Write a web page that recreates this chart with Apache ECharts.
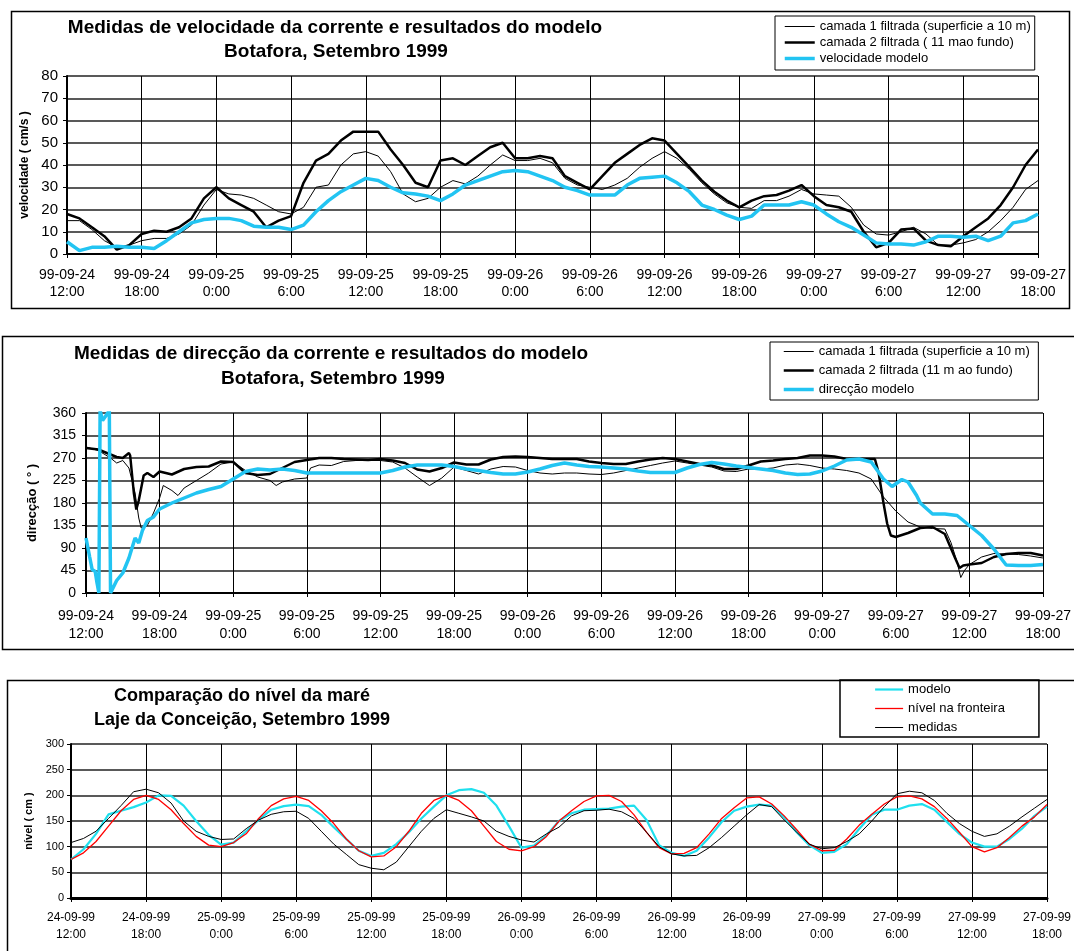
<!DOCTYPE html>
<html>
<head>
<meta charset="utf-8">
<script src="https://cdn.jsdelivr.net/npm/echarts@6/dist/echarts.min.js"></script>
<style>
  html, body { margin: 0; padding: 0; background: #fff; }
  #chart { width: 1074px; height: 951px; }
</style>
</head>
<body>
<div id="chart"></div>
<script>
// hours since 99-09-24 12:00 (shared by panels 1 and 3)
var hours = [0,1,2,3,4,5,6,7,8,9,10,11,12,13,14,15,16,17,18,19,20,21,22,23,24,25,26,27,28,29,30,31,32,33,34,35,36,37,38,39,
  40,41,42,43,44,45,46,47,48,49,50,51,52,53,54,55,56,57,58,59,60,61,62,63,64,65,66,67,68,69,70,71,72,73,74,75,76,77,78];

// panel 1 - velocidade (cm/s)
var velCamada1 = [15,15,11,6,3,4,6,7,7,9, 13,22,29,27,26.5,25,22,19,18,21, 30,31,40,45,46,44,37,27,23.5,25,
  30,33,31.5,35,40,44.5,42,42,43,41, 34,31,30,29,31,34,39,43,46,43, 38,32,27,23,21,20.5,24,24,26,29,
  27,26.5,26,21,13,9,8.5,10,12,9, 4,4,5,6.5,10,15,21,29,33];
var velCamada2 = [18,16,12,8,2,4,9,10.5,10,12, 16,25,30,25,22,19,12,15,17,32, 42,45,51,55,55,55,47,40,32,30,
  42,43,40,44,48,50,43,43,44,43, 35,32,29,35,41,45,49,52,51,45, 39,33,28,24,21,24,26,26.5,28.5,31,
  26,22,21,19,10,3,5,11,11.5,6, 4,3.5,8,12,16,22,30,40,47];
var velModelo = [5.5,1.5,3,3,3.5,3,3,2.5,6,10, 14,15.5,16,16,15,12.5,12,12,11,13, 19,24,28,31,34,33,30,27.5,27,26,
  24,27,31,33,35,37,37.5,37,35,33, 30,28.5,26.5,26.5,26.5,31,34,34.5,35,32, 28,22,20,17.5,15.5,17,22,22,22,23.5,
  22,18,14.5,12,8.5,5,4.5,4.5,4,5.5, 8,8,7.5,8,6,8,14,15,18];
var velTicks = ['99-09-24\n12:00','99-09-24\n18:00','99-09-25\n0:00','99-09-25\n6:00','99-09-25\n12:00','99-09-25\n18:00',
  '99-09-26\n0:00','99-09-26\n6:00','99-09-26\n12:00','99-09-26\n18:00','99-09-27\n0:00','99-09-27\n6:00','99-09-27\n12:00','99-09-27\n18:00'];

// panel 2 - direcção (graus)
var dirHours1 = [0,1,2,2.5,3,3.5,4,4.3,4.5,5, 5.5,6,6.3,7,7.5,8,9,10,11,12, 13,14,15,15.5,16,17,18,18.3,19,20,
  21,22,23,24,25,26,27,28,29,30, 31,32,33,34,35,36,37,38,39,40, 41,42,43,44,45,46,47,48,49,50,
  51,52,53,54,55,56,57,58,59,60, 61,62,63,64,65,66,67,68,69,70, 70.5,71,71.3,71.6,72, 73,74,75,76,77,78];
var dirCamada1 = [292,285,270,260,265,250,200,150,130,135, 160,190,215,205,195,210,225,240,258,262, 245,232,225,215,222,228,230,250,256,255,
  263,265,265,265,262,250,232,215,230,252, 245,238,248,253,252,245,240,238,240,240, 238,237,240,245,250,255,260,264,260,256,
  252,244,243,248,248,250,256,258,255,250, 248,245,240,228,192,164,142,132,129,128, 101,62,31,45,57, 72,79,78,77,74,70];
var dirHours2 = [0,1,2,2.5,3,3.5,3.6,3.9,4.1,4.3,4.7,5,5.5,6, 7,8,9,10,11,12,13,14,15,16, 17,18,19,20,21,22,23,24,25,26,
  27,28,29,30,31,32,33,34,35,36, 37,38,39,40,41,42,43,44,45,46, 47,48,49,50,51,52,53,54,55,56, 57,58,59,60,61,62,63,64,
  64.3,64.6,65,65.3,65.6, 66,67,68,69,70, 70.8,71.2,71.5, 72,73,74,75,76,77,78];
var dirCamada2 = [290,287,277,272,270,280,275,200,167,185,235,240,232,243, 237,248,252,253,263,262,240,236,238,250,
  262,266,270,270,268,267,266,268,265,260, 247,243,250,261,257,257,267,272,273,272, 270,268,268,268,263,260,258,258,263,267,
  270,268,263,258,255,248,248,255,263,265, 268,270,275,275,273,268,268,268, 268,241,180,139,115, 112,120,130,132,118,
  72,50,55, 57,60,72,78,80,80,75];
var dirHours3 = [0,0.3,0.5,0.75,0.9,1.05,1.15,1.35,1.55,1.9, 2,2.5,3,3.5,4,4.3,4.6,5,5.5,6, 7,8,9,10,11,12,13,14,15,16,
  17,18,19,20,21,22,23,24,25,26, 27,28,29,30,31,32,33,34,35,36, 37,38,39,40,41,42,43,44,45,46, 47,48,49,50,51,52,53,54,55,56,
  57,58,59,60,61,62,63,64,65, 65.7,66.5, 67,67.7, 68,69,70,71,72,73,74,75,76,77,78];
var dirModelo = [110,72,47,43,20,0,365,345,352,365, 0,25,40,70,110,100,125,145,152,168, 180,190,200,207,213,228,243,248,246,248,
  245,240,240,240,240,240,240,240,245,252, 256,256,256,253,248,245,241,238,238,242, 248,255,260,256,253,252,250,248,244,241,
  241,241,250,257,261,258,254,251,248,245, 240,237,238,244,254,266,268,262,228, 213,227, 222,195, 180,158,158,155,135,115,88,56,55,55,57];
var dirTicks = velTicks;

// panel 3 - nível da maré (cm)
var nivelModelo = [75,95,125,163,170,177,186,200,199,180, 150,123,104,108,130,152,172,179,182,179, 162,138,115,92,82,88,105,128,155,178,
  200,210,212,205,180,140,98,102,122,150, 165,172,173,174,178,180,152,103,88,82, 92,118,148,170,178,182,180,157,128,103,
  88,90,105,135,162,172,172,180,183,172, 148,125,108,100,100,115,135,160,178];
var nivelFronteira = [75,88,110,140,170,192,200,192,172,145, 120,103,100,108,125,155,180,193,198,190, 170,145,115,92,80,82,100,130,165,190,
  200,190,170,140,110,95,92,100,120,150, 170,188,199,200,188,162,128,98,86,87, 98,125,155,176,195,197,183,160,133,105,
  92,93,115,142,163,183,197,199,193,178, 155,128,100,90,98,118,140,158,182];
var nivelMedidas = [108,116,130,155,180,207,212,205,185,150, 130,120,114,115,135,152,163,168,169,155, 130,105,85,65,58,55,70,100,130,155,
  172,165,158,150,130,120,113,109,125,138, 160,170,171,173,168,155,128,100,86,82, 83,98,118,140,162,182,178,152,128,105,
  96,98,110,125,150,178,203,208,205,190, 165,145,130,120,125,140,158,175,192];
var nivelTicks = ['24-09-99\n12:00','24-09-99\n18:00','25-09-99\n0:00','25-09-99\n6:00','25-09-99\n12:00','25-09-99\n18:00',
  '26-09-99\n0:00','26-09-99\n6:00','26-09-99\n12:00','26-09-99\n18:00','27-09-99\n0:00','27-09-99\n6:00','27-09-99\n12:00','27-09-99\n18:00'];

var FONT = "'Liberation Sans', Arial, sans-serif";

function pairs(xs, ys) {
  var out = [];
  for (var i = 0; i < xs.length; i++) out.push([xs[i], ys[i]]);
  return out;
}

function xAxisFor(idx, ticks, size, margin, lh, axisW) {
  return {
    type: 'value', gridIndex: idx, min: 0, max: 78, interval: 6,
    axisLine: { onZero: false, lineStyle: { color: '#000', width: axisW } },
    axisTick: { show: true, length: 4, lineStyle: { color: '#000', width: 1 } },
    splitLine: { show: true, lineStyle: { color: '#000', width: 1 } },
    axisLabel: {
      color: '#000', fontFamily: FONT, fontSize: size, margin: margin, lineHeight: lh,
      formatter: function (v) { return ticks[Math.round(v / 6)]; }
    }
  };
}

function yAxisFor(idx, max, step, size, margin, name, nameSize, nameGap) {
  return {
    type: 'value', gridIndex: idx, min: 0, max: max, interval: step,
    name: name, nameLocation: 'middle', nameGap: nameGap, nameRotate: 90,
    nameTextStyle: { color: '#000', fontFamily: FONT, fontWeight: 'bold', fontSize: nameSize },
    axisLine: { show: true, lineStyle: { color: '#000', width: 2 } },
    axisTick: { show: true, length: 4, lineStyle: { color: '#000' } },
    splitLine: { show: true, lineStyle: { color: '#222', width: 1.5 } },
    axisLabel: { color: '#000', fontFamily: FONT, fontSize: size, margin: margin }
  };
}

function line(name, xi, data, color, width) {
  return {
    name: name, type: 'line', xAxisIndex: xi, yAxisIndex: xi, data: data,
    symbol: 'none', clip: true, animation: false,
    lineStyle: { color: color, width: width }, itemStyle: { color: color }
  };
}

function title(text, cx, cy, size) {
  return { type: 'text', x: cx, y: cy, style: { text: text, fill: '#000', font: 'bold ' + size + 'px ' + FONT, textAlign: 'center', textVerticalAlign: 'middle' } };
}

function frame(x, y, w, h) {
  return { type: 'rect', shape: { x: x, y: y, width: w, height: h }, style: { fill: null, stroke: '#000', lineWidth: 1.5 }, z: 10 };
}

// legend icons: line only, no marker
var noMarker = { color: 'rgba(0,0,0,0)', borderWidth: 0 };

var chart = echarts.init(document.getElementById('chart'));

var option = {
  backgroundColor: '#fff',
  animation: false,
  grid: [
    { left: 67, top: 76, width: 971, height: 178 },
    { left: 86, top: 413, width: 958, height: 180 },
    { left: 71, top: 744, width: 976, height: 154 }
  ],
  xAxis: [
    xAxisFor(0, velTicks, 14, 13, 17, 2),
    xAxisFor(1, dirTicks, 14, 14, 18, 2),
    xAxisFor(2, nivelTicks, 12, 11, 17, 3)
  ],
  yAxis: [
    yAxisFor(0, 80, 10, 15, 9, 'velocidade ( cm/s )', 12, 34),
    yAxisFor(1, 360, 45, 14, 10, 'direcção ( ° )', 13, 47),
    yAxisFor(2, 300, 50, 11, 7, 'nível ( cm )', 11, 37)
  ],
  legend: [
    {
      orient: 'vertical', left: 775, top: 16, padding: [4, 4, 5, 8],
      itemWidth: 30, itemHeight: 12, itemGap: 3, itemStyle: noMarker,
      lineStyle: { width: 'inherit' },
      borderColor: '#000', borderWidth: 1,
      textStyle: { color: '#000', fontFamily: FONT, fontSize: 13 },
      data: ['camada 1 filtrada (superficie a 10 m)', 'camada 2 filtrada ( 11 mao fundo)', 'velocidade modelo']
    },
    {
      orient: 'vertical', left: 770, top: 342, padding: [3, 5, 4, 12],
      itemWidth: 30, itemHeight: 14, itemGap: 6, itemStyle: noMarker,
      lineStyle: { width: 'inherit' },
      borderColor: '#000', borderWidth: 1,
      textStyle: { color: '#000', fontFamily: FONT, fontSize: 13 },
      data: ['camada 1 filtrada (superficie a 10 m) ', 'camada 2 filtrada (11 m ao fundo)', 'direcção modelo']
    },
    {
      orient: 'vertical', left: 840, top: 680, padding: [3, 34, 3, 34],
      itemWidth: 28, itemHeight: 13, itemGap: 6, itemStyle: noMarker,
      lineStyle: { width: 'inherit' },
      borderColor: '#000', borderWidth: 1.5,
      textStyle: { color: '#000', fontFamily: FONT, fontSize: 13 },
      data: ['modelo', 'nível na fronteira', 'medidas']
    }
  ],
  series: [
    line('camada 1 filtrada (superficie a 10 m)', 0, pairs(hours, velCamada1), '#000', 1),
    line('camada 2 filtrada ( 11 mao fundo)', 0, pairs(hours, velCamada2), '#000', 2.5),
    line('velocidade modelo', 0, pairs(hours, velModelo), '#22c4f2', 3.5),
    line('camada 1 filtrada (superficie a 10 m) ', 1, pairs(dirHours1, dirCamada1), '#000', 1),
    line('camada 2 filtrada (11 m ao fundo)', 1, pairs(dirHours2, dirCamada2), '#000', 2.5),
    line('direcção modelo', 1, pairs(dirHours3, dirModelo), '#22c4f2', 3.5),
    line('modelo', 2, pairs(hours, nivelModelo), '#1fe0ee', 2.2),
    line('nível na fronteira', 2, pairs(hours, nivelFronteira), '#ff0000', 1.3),
    line('medidas', 2, pairs(hours, nivelMedidas), '#000', 1)
  ],
  graphic: [
    frame(11.5, 11.5, 1058, 297),
    frame(2.5, 336.5, 1100, 313),
    frame(7.5, 680.5, 1100, 400),
    title('Medidas de velocidade da corrente e resultados do modelo', 335, 28, 19),
    title('Botafora, Setembro 1999', 336, 52, 19),
    title('Medidas de direcção da corrente e resultados do modelo', 331, 354, 19),
    title('Botafora, Setembro 1999', 333, 379, 19),
    title('Comparação do nível da maré', 242, 696, 18),
    title('Laje da Conceição, Setembro 1999', 242, 720, 18)
  ]
};

chart.setOption(option);
</script>
</body>
</html>
